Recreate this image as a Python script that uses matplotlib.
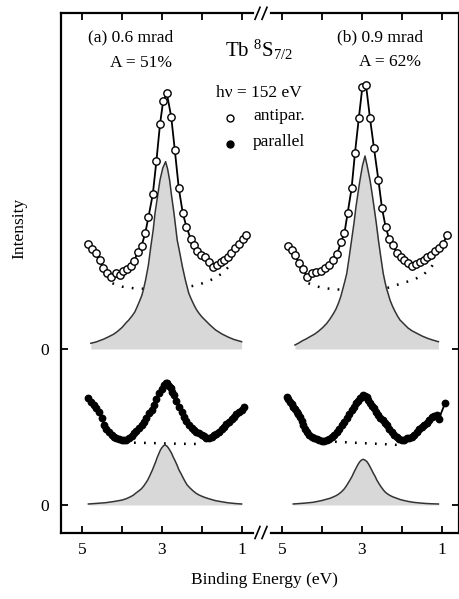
import matplotlib
matplotlib.use("Agg")
import matplotlib.pyplot as plt
from matplotlib.lines import Line2D

plt.rcParams['font.family'] = ['Liberation Serif', 'DejaVu Serif']
plt.rcParams['mathtext.fontset'] = 'custom'
plt.rcParams['mathtext.rm'] = 'Liberation Serif'
plt.rcParams['mathtext.it'] = 'Liberation Serif:italic'
plt.rcParams['mathtext.default'] = 'regular'

# ---------------- data (binding energy in eV, intensity in arb. units) -------------
upper_offset = 15.6  # zero of the upper (antiparallel) spectra

# panel (a) 0.6 mrad, antiparallel
E_a_anti = [4.84, 4.76, 4.66, 4.56, 4.47, 4.37, 4.27, 4.16, 4.06, 3.98, 3.88, 3.78, 3.69,
            3.61, 3.51, 3.42, 3.34, 3.23, 3.14, 3.05, 2.97, 2.88, 2.77, 2.68, 2.58, 2.48,
            2.39, 2.28, 2.20, 2.12, 2.03, 1.93, 1.83, 1.73, 1.63, 1.53, 1.45, 1.35, 1.27,
            1.18, 1.08, 0.98, 0.89]
I_a_anti = [10.47, 9.97, 9.57, 8.9, 8.07, 7.63, 7.23, 7.63, 7.4, 7.83, 8.03, 8.3, 8.8,
            9.73, 10.33, 11.57, 13.17, 15.47, 18.8, 22.47, 24.83, 25.57, 23.23, 19.9, 16.07,
            13.57, 12.23, 10.97, 10.4, 9.83, 9.4, 9.23, 8.73, 8.17, 8.4, 8.67, 8.9, 9.23,
            9.57, 10.07, 10.5, 10.97, 11.4]
E_a_anti_fit = [4.78, 4.65, 4.55, 4.45, 4.33, 4.20, 4.10, 4.00, 3.91, 3.83, 3.75, 3.68,
                3.62, 3.56, 3.50, 3.455, 3.41, 3.34, 3.28, 3.22, 3.175, 3.11, 3.05, 2.98,
                2.91, 2.86, 2.81, 2.76, 2.70, 2.62, 2.55, 2.49, 2.41, 2.33, 2.27, 2.20,
                2.14, 2.075, 2.00, 1.90, 1.80, 1.66, 1.50, 1.35, 1.20, 1.01]
I_a_anti_fit = [0.57, 0.7, 0.85, 1.0, 1.23, 1.5, 1.8, 2.15, 2.57, 2.9, 3.3, 3.7, 4.23,
                4.8, 5.4, 6.1, 6.9, 8.4, 10.23, 11.9, 13.57, 15.3, 16.9, 18.1, 18.73, 18.0,
                16.9, 15.3, 13.57, 10.9, 9.5, 8.23, 6.8, 5.57, 5.0, 4.4, 3.95, 3.57, 3.2,
                2.8, 2.4, 1.9, 1.5, 1.2, 0.95, 0.73]
E_a_anti_bg = [4.24, 3.99, 3.7, 3.3, 2.9, 2.5, 2.24, 1.99, 1.74, 1.49, 1.22]
I_a_anti_bg = [6.57, 6.23, 6.07, 6.0, 6.0, 6.1, 6.3, 6.57, 6.97, 7.57, 8.7]

# panel (a) parallel
E_a_par = [4.84, 4.77, 4.70, 4.64, 4.575, 4.51, 4.45, 4.39, 4.325, 4.26, 4.2, 4.14, 4.075,
           4.01, 3.95, 3.89, 3.825, 3.76, 3.7, 3.64, 3.575, 3.51, 3.45, 3.39, 3.325, 3.26,
           3.2, 3.14, 3.075, 3.01, 2.95, 2.91, 2.87, 2.82, 2.78, 2.74, 2.7, 2.64, 2.575,
           2.51, 2.45, 2.39, 2.325, 2.26, 2.2, 2.14, 2.075, 2.01, 1.95, 1.89, 1.825, 1.76,
           1.7, 1.64, 1.575, 1.51, 1.45, 1.39, 1.325, 1.26, 1.2, 1.14, 1.075, 1.01, 0.95]
I_a_par = [10.67, 10.35, 10.0, 9.7, 9.33, 8.7, 8.0, 7.65, 7.33, 7.05, 6.83, 6.68, 6.57,
           6.5, 6.5, 6.55, 6.67, 6.9, 7.17, 7.4, 7.67, 8.0, 8.33, 8.75, 9.17, 9.55, 10.0,
           10.6, 11.17, 11.6, 12.0, 12.2, 12.17, 11.95, 11.67, 11.35, 11.0, 10.4, 9.83,
           9.3, 8.83, 8.4, 8.0, 7.75, 7.5, 7.3, 7.17, 7.0, 6.9, 6.75, 6.67, 6.8, 7.0, 7.15,
           7.33, 7.6, 7.83, 8.1, 8.33, 8.6, 8.83, 9.1, 9.33, 9.55, 9.77]
E_a_par_fit = [4.84, 4.6, 4.41, 4.2, 3.99, 3.88, 3.80, 3.72, 3.66, 3.59, 3.52, 3.46, 3.41,
               3.36, 3.32, 3.28, 3.24, 3.20, 3.16, 3.12, 3.075, 3.04, 3.00, 2.96, 2.925,
               2.88, 2.84, 2.80, 2.76, 2.72, 2.67, 2.62, 2.575, 2.52, 2.47, 2.42, 2.37,
               2.30, 2.22, 2.15, 2.075, 1.96, 1.85, 1.66, 1.50, 1.35, 1.18, 1.01]
I_a_par_fit = [0.1, 0.17, 0.23, 0.35, 0.5, 0.65, 0.8, 0.97, 1.17, 1.38, 1.6, 1.88, 2.17,
               2.48, 2.8, 3.15, 3.5, 3.9, 4.3, 4.75, 5.17, 5.5, 5.75, 5.93, 6.0, 5.9, 5.7,
               5.45, 5.17, 4.8, 4.4, 3.95, 3.5, 3.1, 2.7, 2.33, 2.0, 1.7, 1.4, 1.18, 1.0,
               0.8, 0.65, 0.43, 0.32, 0.22, 0.15, 0.1]
E_a_par_bg = [3.7, 3.3, 2.9, 2.5, 1.95]
I_a_par_bg = [6.23, 6.2, 6.15, 6.12, 6.1]

# panel (b) 0.9 mrad, antiparallel
E_b_anti = [4.84, 4.76, 4.675, 4.575, 4.48, 4.37, 4.26, 4.15, 4.03, 3.925, 3.82, 3.72,
            3.62, 3.53, 3.44, 3.36, 3.26, 3.175, 3.08, 2.99, 2.90, 2.80, 2.70, 2.59, 2.50,
            2.41, 2.32, 2.23, 2.13, 2.03, 1.94, 1.84, 1.74, 1.65, 1.55, 1.46, 1.37, 1.275,
            1.175, 1.075, 0.98, 0.87]
I_b_anti = [10.33, 9.9, 9.4, 8.57, 7.97, 7.23, 7.63, 7.73, 7.83, 8.07, 8.4, 8.9, 9.5,
            10.67, 11.57, 13.57, 16.07, 19.63, 23.07, 26.23, 26.4, 23.07, 20.07, 16.9,
            14.07, 12.23, 10.97, 10.4, 9.63, 9.23, 8.9, 8.63, 8.3, 8.5, 8.67, 8.9, 9.17,
            9.4, 9.83, 10.07, 10.5, 11.4]
E_b_anti_fit = [4.675, 4.58, 4.50, 4.40, 4.30, 4.18, 4.08, 3.98, 3.88, 3.80, 3.72, 3.65,
                3.59, 3.53, 3.48, 3.43, 3.38, 3.32, 3.26, 3.20, 3.15, 3.10, 3.05, 2.99,
                2.925, 2.87, 2.80, 2.75, 2.70, 2.64, 2.59, 2.53, 2.47, 2.43, 2.39, 2.34,
                2.30, 2.24, 2.18, 2.12, 2.05, 1.95, 1.85, 1.75, 1.63, 1.50, 1.35, 1.22, 1.09]
I_b_anti_fit = [0.4, 0.6, 0.8, 1.0, 1.23, 1.5, 1.8, 2.15, 2.57, 3.0, 3.5, 4.0, 4.57, 5.25,
                6.0, 6.75, 7.57, 9.2, 10.9, 12.6, 14.23, 15.6, 16.9, 18.3, 19.3, 18.3,
                16.9, 15.6, 14.23, 12.5, 10.9, 9.2, 7.57, 6.8, 6.1, 5.45, 4.9, 4.3, 3.8,
                3.35, 2.9, 2.5, 2.1, 1.82, 1.57, 1.3, 1.05, 0.88, 0.73]
E_b_anti_bg = [4.34, 4.05, 3.72, 3.3, 2.9, 2.5, 2.3, 2.01, 1.72, 1.47, 1.26, 1.13]
I_b_anti_bg = [6.57, 6.17, 5.97, 5.9, 5.9, 6.0, 6.17, 6.57, 6.9, 7.4, 8.23, 9.0]

# panel (b) parallel
E_b_par = [4.88, 4.84, 4.8, 4.76, 4.72, 4.68, 4.63, 4.59, 4.55, 4.51, 4.47, 4.43, 4.38,
           4.32, 4.26, 4.2, 4.13, 4.07, 4.01, 3.95, 3.88, 3.82, 3.76, 3.7, 3.63, 3.57, 3.51,
           3.45, 3.38, 3.32, 3.26, 3.2, 3.15, 3.1, 3.05, 3.01, 2.97, 2.92, 2.88, 2.84, 2.8,
           2.75, 2.7, 2.65, 2.59, 2.54, 2.48, 2.43, 2.38, 2.32, 2.26, 2.2, 2.13, 2.07, 2.01,
           1.95, 1.88, 1.82, 1.76, 1.7, 1.63, 1.57, 1.51, 1.45, 1.38, 1.32, 1.26, 1.2, 1.13,
           1.08, 0.925]
I_b_par = [10.83, 10.6, 10.33, 10.1, 9.83, 9.6, 9.33, 9.1, 8.83, 8.4, 8.0, 7.65, 7.33,
           7.05, 6.83, 6.7, 6.57, 6.5, 6.43, 6.45, 6.5, 6.65, 6.83, 7.05, 7.33, 7.65, 8.0,
           8.33, 8.67, 9.1, 9.5, 9.85, 10.17, 10.45, 10.67, 10.85, 11.0, 10.9, 10.77, 10.5,
           10.17, 9.9, 9.67, 9.35, 9.0, 8.75, 8.5, 8.25, 8.0, 7.65, 7.33, 7.05, 6.83, 6.65,
           6.5, 6.55, 6.67, 6.75, 6.83, 7.05, 7.33, 7.6, 7.83, 8.0, 8.17, 8.5, 8.83, 8.95,
           9.0, 8.6, 10.17]
E_b_par_fit = [4.72, 4.45, 4.22, 4.0, 3.80, 3.72, 3.64, 3.57, 3.51, 3.45, 3.40, 3.35, 3.30,
               3.25, 3.21, 3.17, 3.13, 3.09, 3.05, 3.01, 2.97, 2.93, 2.88, 2.84, 2.80, 2.76,
               2.72, 2.67, 2.63, 2.58, 2.53, 2.48, 2.43, 2.37, 2.30, 2.22, 2.13, 2.05, 1.95,
               1.85, 1.72, 1.55, 1.40, 1.25, 1.09]
I_b_par_fit = [0.1, 0.18, 0.27, 0.45, 0.67, 0.8, 0.95, 1.13, 1.33, 1.58, 1.85, 2.17, 2.5,
               2.85, 3.2, 3.52, 3.83, 4.12, 4.35, 4.5, 4.57, 4.5, 4.35, 4.12, 3.83, 3.52,
               3.2, 2.85, 2.5, 2.17, 1.85, 1.58, 1.33, 1.13, 0.95, 0.8, 0.67, 0.55, 0.45,
               0.36, 0.27, 0.2, 0.15, 0.12, 0.1]
E_b_par_bg = [3.675, 3.3, 2.9, 2.5, 2.09]
I_b_par_bg = [6.33, 6.25, 6.17, 6.1, 6.0]

x_ticks = [5, 4, 3, 2, 1]
x_ticklabels = ['5', '', '3', '', '1']
y_ticks = [0, upper_offset]
y_ticklabels = ['0', '0']

# ---------------- figure -------------
W, H = 459, 599
fig = plt.figure(figsize=(W / 100, H / 100), dpi=100)

def fx(px):
    return px / W

def fy(py):
    return 1 - py / H

top_px, bot_px = 13.3, 532.5
ax1 = fig.add_axes([fx(61), fy(bot_px), fx(262) - fx(61), fy(top_px) - fy(bot_px)])
ax2 = fig.add_axes([fx(262), fy(bot_px), fx(459) - fx(262), fy(top_px) - fy(bot_px)])

fill_col = '#d8d8d8'
curve_col = '#333333'
dot_style = (0, (0.7, 3.3))

def draw_panel(ax, anti, anti_fit, anti_bg, par, par_fit, par_bg):
    off = upper_offset
    # fitted peak (shaded)
    ax.fill_between(anti_fit[0], [off] * len(anti_fit[0]), [v + off for v in anti_fit[1]],
                    color=fill_col, lw=0, zorder=2)
    ax.plot(anti_fit[0], [v + off for v in anti_fit[1]], color=curve_col, lw=1.1, zorder=3)
    ax.fill_between(par_fit[0], [0] * len(par_fit[0]), par_fit[1], color=fill_col, lw=0, zorder=2)
    ax.plot(par_fit[0], par_fit[1], color=curve_col, lw=1.1, zorder=3)
    # background
    ax.plot(anti_bg[0], [v + off for v in anti_bg[1]], color='black', lw=1.8,
            linestyle=dot_style, zorder=1)
    ax.plot(par_bg[0], par_bg[1], color='black', lw=1.8, linestyle=dot_style, zorder=1)
    # data
    ax.plot(anti[0], [v + off for v in anti[1]], '-o', color='black', lw=1.3, ms=5.3,
            mfc='white', mec='black', mew=1.0, zorder=4)
    ax.plot(par[0], par[1], '-o', color='black', lw=1.3, ms=4.6, mfc='black', mec='black',
            zorder=4)

draw_panel(ax1, (E_a_anti, I_a_anti), (E_a_anti_fit, I_a_anti_fit), (E_a_anti_bg, I_a_anti_bg),
           (E_a_par, I_a_par), (E_a_par_fit, I_a_par_fit), (E_a_par_bg, I_a_par_bg))
draw_panel(ax2, (E_b_anti, I_b_anti), (E_b_anti_fit, I_b_anti_fit), (E_b_anti_bg, I_b_anti_bg),
           (E_b_par, I_b_par), (E_b_par_fit, I_b_par_fit), (E_b_par_bg, I_b_par_bg))

ylo, yhi = (505 - bot_px) / 10, (505 - top_px) / 10
ax1.set_xlim(5.525, 0.5)
ax2.set_xlim(5.5, 0.575)
for ax in (ax1, ax2):
    ax.set_ylim(ylo, yhi)
    ax.set_facecolor('none')
    ax.set_xticks(x_ticks)
    ax.set_xticklabels(x_ticklabels)
    ax.tick_params(axis='x', direction='in', top=True, bottom=True, length=5, width=1.3,
                   labelsize=12.5, pad=7)
    for s in ('top', 'bottom', 'left', 'right'):
        ax.spines[s].set_linewidth(1.6)

ax1.spines['right'].set_visible(False)
ax2.spines['left'].set_visible(False)
ax1.spines['top'].set_bounds(5.525, 0.73)
ax1.spines['bottom'].set_bounds(5.525, 0.73)
ax2.spines['top'].set_bounds(5.27, 0.575)
ax2.spines['bottom'].set_bounds(5.27, 0.575)

ax1.set_yticks(y_ticks)
ax1.set_yticklabels(y_ticklabels)
ax1.tick_params(axis='y', direction='in', left=True, right=False, length=5, width=1.3,
                labelsize=12.5, pad=9)
ax2.set_yticks(y_ticks)
ax2.tick_params(axis='y', direction='in', left=False, right=True, labelleft=False,
                labelright=False, length=5, width=1.3)

# break marks "//"
for yb in (top_px, bot_px):
    for xc in (257.5, 264.5):
        fig.add_artist(Line2D([fx(xc - 2.5), fx(xc + 2.5)], [fy(yb + 6), fy(yb - 6)],
                              transform=fig.transFigure, color='black', lw=1.2))

# texts
fs = 12.5
fig.text(fx(173), fy(37), '(a) 0.6 mrad', ha='right', va='center', fontsize=fs)
fig.text(fx(172), fy(63), 'A = 51%', ha='right', va='center', fontsize=fs)
fig.text(fx(423), fy(37), '(b) 0.9 mrad', ha='right', va='center', fontsize=fs)
fig.text(fx(421), fy(62), 'A = 62%', ha='right', va='center', fontsize=fs)
fig.text(fx(225), fy(50), r'Tb $^{8}$S$_{7/2}$', ha='left', va='center', fontsize=15)
fig.text(fx(216), fy(93), 'h\u03bd = 152 eV', ha='left', va='center', fontsize=fs)
fig.text(fx(253), fy(116), 'antipar.', ha='left', va='center', fontsize=fs)
fig.text(fx(253), fy(142), 'parallel', ha='left', va='center', fontsize=fs)
fig.add_artist(Line2D([fx(230)], [fy(118)], transform=fig.transFigure, marker='o', ms=5,
                      mfc='white', mec='black', mew=1.0, ls='none'))
fig.add_artist(Line2D([fx(230)], [fy(144)], transform=fig.transFigure, marker='o', ms=5,
                      mfc='black', mec='black', ls='none'))
fig.text(fx(19), fy(228), 'Intensity', rotation=90, ha='center', va='center', fontsize=fs)
fig.text(fx(264), fy(580), 'Binding Energy (eV)', ha='center', va='center', fontsize=fs)

fig.savefig('out.png', dpi=100)
